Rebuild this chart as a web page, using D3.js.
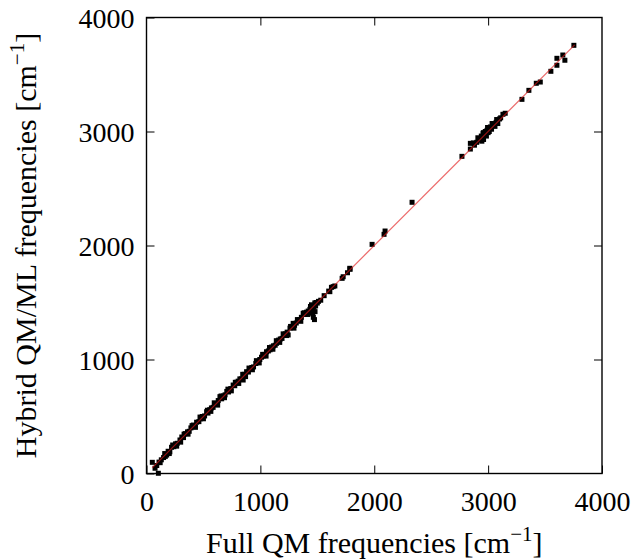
<!DOCTYPE html>
<html>
<head>
<meta charset="utf-8">
<script src="https://cdn.jsdelivr.net/npm/d3@7"></script>
<style>
  body { margin: 0; background: #fff; }
</style>
</head>
<body>
<div id="chart"></div>
<script>
var margin = { top: 17.5, right: 31, bottom: 86.5, left: 146.5 },
    width = 633 - margin.left - margin.right,
    height = 560 - margin.top - margin.bottom;

// [full QM, hybrid QM/ML] frequencies in cm^-1
var lowModes = [
    [51, 98], [75, 46], [104, 2], [90, 70], [110, 100], [130, 120], [150, 140], [165, 150],
    [177, 162], [190, 195], [205, 190], [220, 230], [240, 235], [255, 260], [270, 265],
    [294, 294], [310, 320], [325, 315], [340, 350], [360, 365], [375, 370], [390, 400],
    [411, 425], [425, 420], [440, 450], [460, 455], [475, 480], [490, 500], [510, 505],
    [528, 542], [540, 530], [555, 560], [570, 575], [585, 580], [600, 610], [615, 605],
    [630, 640], [645, 674], [660, 655], [675, 680], [690, 690], [705, 720], [720, 715],
    [740, 745], [761, 776], [775, 770], [790, 800], [805, 810], [820, 830], [835, 830],
    [849, 820], [860, 870], [879, 893], [895, 890], [910, 915], [925, 930], [940, 935],
    [960, 965], [981, 981], [995, 1000], [1010, 1020], [1025, 1030], [1040, 1045],
    [1054, 1068], [1070, 1075], [1085, 1085], [1100, 1110], [1115, 1120], [1130, 1125],
    [1142, 1142], [1160, 1170], [1175, 1180], [1190, 1185], [1205, 1215], [1220, 1225],
    [1235, 1240], [1244, 1215], [1260, 1275], [1275, 1290], [1288, 1317], [1300, 1300],
    [1315, 1320], [1330, 1345], [1345, 1350], [1360, 1370], [1376, 1405], [1390, 1395],
    [1405, 1415], [1420, 1425], [1435, 1440], [1449, 1480], [1455, 1430], [1460, 1400],
    [1465, 1370], [1470, 1460], [1475, 1350], [1478, 1496], [1480, 1420], [1490, 1500],
    [1500, 1495], [1510, 1510]
];

// second pass over the dense band, points just off the diagonal
var lowModesOff = [
    [120, 95], [160, 175], [200, 175], [230, 250], [265, 240], [300, 275], [330, 345],
    [365, 345], [400, 420], [430, 405], [470, 495], [500, 480], [535, 555], [565, 545],
    [595, 620], [625, 600], [655, 680], [685, 665], [715, 740], [745, 725], [780, 800],
    [810, 790], [845, 870], [870, 850], [900, 925], [930, 910], [965, 990], [990, 970],
    [1020, 1045], [1050, 1030], [1080, 1105], [1110, 1090], [1140, 1165], [1170, 1150],
    [1200, 1225], [1230, 1210], [1265, 1290], [1295, 1275], [1325, 1350], [1355, 1335],
    [1385, 1410], [1415, 1395], [1440, 1465], [1445, 1410], [1460, 1440], [1485, 1470]
];

var midModes = [
    [1530, 1520], [1560, 1560], [1600, 1600], [1610, 1595], [1624, 1633], [1639, 1639],
    [1654, 1645], [1718, 1712], [1727, 1726], [1765, 1761], [1785, 1800], [1788, 1791],
    [1981, 2010], [2086, 2098], [2095, 2127], [2332, 2379]
];

var stretchModes = [
    [2770, 2782], [2844, 2846], [2844, 2896], [2870, 2900], [2880, 2880], [2900, 2905],
    [2920, 2930], [2930, 2925], [2945, 2915], [2940, 2960], [2950, 2940], [2960, 2990],
    [2960, 2930], [2970, 2975], [2975, 3000], [2985, 2960], [2990, 3010], [3000, 2990],
    [3005, 3030], [3010, 3000], [3020, 3040], [3030, 3020], [3040, 3050], [3050, 3060],
    [3060, 3045], [3070, 3080], [3085, 3070], [3100, 3110], [3110, 3120], [3130, 3151],
    [3150, 3160], [2910, 2945], [2955, 2985], [2995, 3035], [3035, 3070], [3075, 3105],
    [3297, 3282], [3358, 3361], [3423, 3423], [3458, 3434], [3551, 3528],
    [3604, 3581], [3604, 3642], [3656, 3671], [3674, 3625], [3753, 3756]
];

var ticks = [0, 1000, 2000, 3000, 4000];
var fitRange = [50, 3760];

var allPoints = lowModes.concat(lowModesOff, midModes, stretchModes);

var serif = "'Liberation Serif', 'Times New Roman', serif";

var svg = d3.select("#chart").append("svg")
    .attr("width", 633)
    .attr("height", 560)
    .style("font-family", serif);

var g = svg.append("g")
    .attr("transform", "translate(" + margin.left + "," + margin.top + ")");

var xScale = d3.scaleLinear().domain([0, 4000]).range([0, width]);
var yScale = d3.scaleLinear().domain([0, 4000]).range([height, 0]);

// points
var sz = 5;
g.selectAll(".pt")
    .data(allPoints)
    .enter().append("rect")
    .attr("class", "pt")
    .attr("x", function (d) { return xScale(d[0]) - sz / 2; })
    .attr("y", function (d) { return yScale(d[1]) - sz / 2; })
    .attr("width", sz)
    .attr("height", sz)
    .attr("fill", "#000");

// y = x line
g.append("line")
    .attr("x1", xScale(fitRange[0]))
    .attr("y1", yScale(fitRange[0]))
    .attr("x2", xScale(fitRange[1]))
    .attr("y2", yScale(fitRange[1]))
    .attr("stroke", "rgb(225,25,25)")
    .attr("stroke-opacity", 0.65)
    .attr("stroke-width", 1.2);

// axes, ticks inside on all sides
function styleAxis(sel) {
    sel.attr("font-family", null).attr("font-size", null);
    sel.select(".domain").remove();
    sel.selectAll(".tick line").attr("stroke", "#000").attr("stroke-width", 1);
}

var tickFont = "28px";
var titleFont = "30px";

var xAxis = g.append("g")
    .attr("transform", "translate(0," + height + ")")
    .call(d3.axisBottom(xScale).tickValues(ticks).tickSize(-8).tickPadding(18).tickFormat(d3.format("d")));
styleAxis(xAxis);
xAxis.selectAll("text").style("font-size", tickFont).style("font-family", serif).attr("fill", "#000");

var xTop = g.append("g")
    .call(d3.axisTop(xScale).tickValues(ticks.slice(1, -1)).tickSize(-8).tickFormat(""));
styleAxis(xTop);

var yAxis = g.append("g")
    .call(d3.axisLeft(yScale).tickValues(ticks).tickSize(-8).tickPadding(12).tickFormat(d3.format("d")));
styleAxis(yAxis);
yAxis.selectAll("text").style("font-size", tickFont).style("font-family", serif).attr("fill", "#000").attr("dy", "0.34em");

var yRight = g.append("g")
    .attr("transform", "translate(" + width + ",0)")
    .call(d3.axisRight(yScale).tickValues(ticks.slice(1, -1)).tickSize(-8).tickFormat(""));
styleAxis(yRight);

// frame
g.append("rect")
    .attr("width", width)
    .attr("height", height)
    .attr("fill", "none")
    .attr("stroke", "#000")
    .attr("stroke-width", 1.4);

// axis titles
var xt = svg.append("text")
    .attr("x", margin.left + width / 2)
    .attr("y", 553)
    .attr("text-anchor", "middle")
    .style("font-family", serif)
    .style("font-size", titleFont);
xt.append("tspan").text("Full QM frequencies [cm");
xt.append("tspan").attr("dy", -12).style("font-size", "21px").text("\u22121");
xt.append("tspan").attr("dy", 12).text("]");

var yt = svg.append("text")
    .attr("transform", "translate(36," + (margin.top + height / 2) + ") rotate(-90)")
    .attr("text-anchor", "middle")
    .style("font-family", serif)
    .style("font-size", titleFont);
yt.append("tspan").text("Hybrid QM/ML frequencies [cm");
yt.append("tspan").attr("dy", -12).style("font-size", "21px").text("\u22121");
yt.append("tspan").attr("dy", 12).text("]");
</script>
</body>
</html>
